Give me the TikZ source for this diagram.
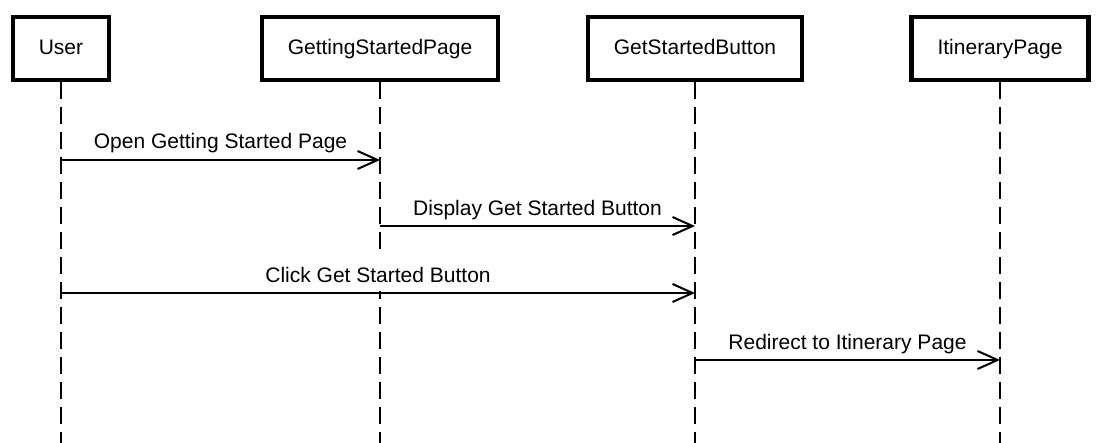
\documentclass[tikz,border=0pt]{standalone}
\usepackage{fontspec}
\setmainfont{Liberation Sans}
\usetikzlibrary{positioning,arrows.meta}

\begin{document}
\begin{tikzpicture}[x=0.5pt, y=-0.5pt,
  actor/.style={draw, line width=2.2pt, minimum height=31.3pt, inner xsep=13pt,
    text height=7.5pt, text depth=1.5pt, font=\fontsize{10.5}{12.6}\selectfont},
  lifeline/.style={line width=1.1pt, dash pattern=on 8.5pt off 4pt},
  msg/.style={line width=1pt, -{Straight Barb[length=10pt, width=9pt]}},
  lbl/.style={above, yshift=0.5pt, fill=white, inner xsep=2pt, inner ysep=3pt,
    text height=10.5pt, text depth=1.5pt, font=\fontsize{10.5}{12.6}\selectfont}]
\useasboundingbox (0,0) rectangle (1101,443);

\def\xa{61};
\def\xb{380};
\def\xc{695};
\def\xd{1000};

\def\ytop{48.5};
\def\ybot{443};

\node[actor] (user) at (\xa, \ytop) {User};
\node[actor] (start) at (\xb, \ytop) {GettingStartedPage};
\node[actor] (button) at (\xc, \ytop) {GetStartedButton};
\node[actor] (itin) at (\xd, \ytop) {ItineraryPage};

\coordinate (userEnd) at (\xa, \ybot);
\coordinate (startEnd) at (\xb, \ybot);
\coordinate (buttonEnd) at (\xc, \ybot);
\coordinate (itinEnd) at (\xd, \ybot);
\draw[lifeline] (user) -- (userEnd);
\draw[lifeline] (start) -- (startEnd);
\draw[lifeline] (button) -- (buttonEnd);
\draw[lifeline] (itin) -- (itinEnd);

\coordinate (m1a) at (\xa, 160);
\coordinate (m1b) at (\xb, 160);
\coordinate (m2a) at (\xb, 226);
\coordinate (m2b) at (\xc, 226);
\coordinate (m3a) at (\xa, 293);
\coordinate (m3b) at (\xc, 293);
\coordinate (m4a) at (\xc, 360);
\coordinate (m4b) at (\xd, 360);

\draw[msg] (m1a) -- node[lbl] {Open Getting Started Page} (m1b);
\draw[msg] (m2a) -- node[lbl] {Display Get Started Button} (m2b);
\draw[msg] (m3a) -- node[lbl] {Click Get Started Button} (m3b);
\draw[msg] (m4a) -- node[lbl] {Redirect to Itinerary Page} (m4b);
\end{tikzpicture}
\end{document}
